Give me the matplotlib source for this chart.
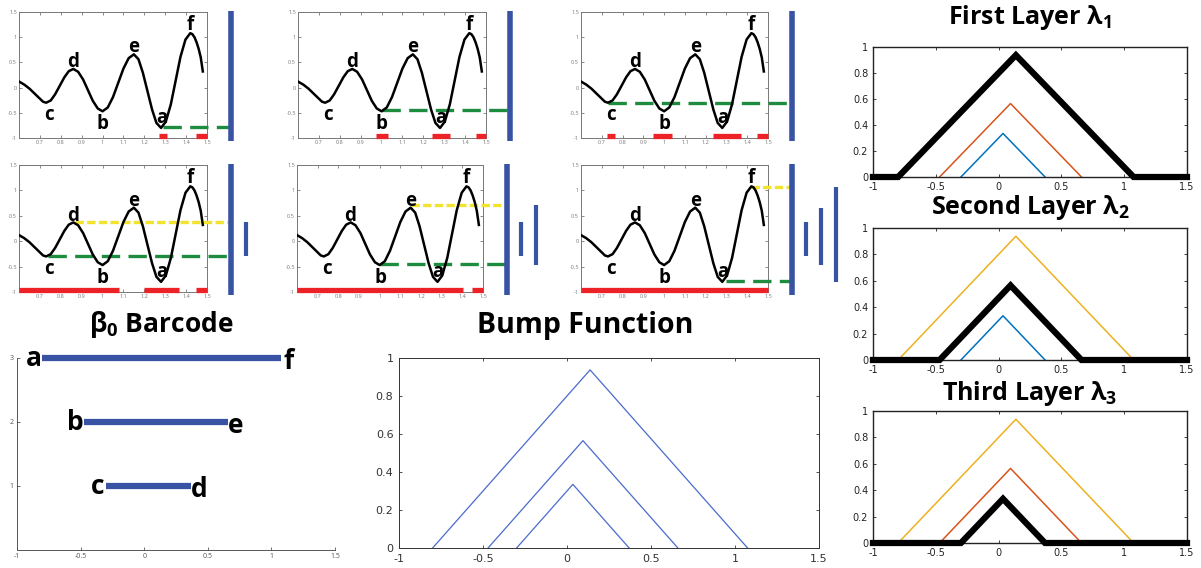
import numpy as np
import matplotlib.pyplot as plt

plt.rcParams['font.family'] = ['Open Sans', 'DejaVu Sans']
plt.rcParams['mathtext.fontset'] = 'custom'
plt.rcParams['mathtext.rm'] = 'Open Sans:bold'
plt.rcParams['mathtext.it'] = 'Open Sans:bold'
plt.rcParams['mathtext.bf'] = 'Open Sans:bold'

# the function f(x)
curve_x = [0.600, 0.625, 0.650, 0.675, 0.700, 0.715, 0.730,
           0.752, 0.773, 0.795, 0.817, 0.838, 0.860,
           0.883, 0.907, 0.930, 0.953, 0.977, 1.000,
           1.025, 1.050, 1.075, 1.100, 1.125, 1.150,
           1.172, 1.193, 1.215, 1.237, 1.258, 1.280,
           1.303, 1.327, 1.350, 1.373, 1.397, 1.420,
           1.430, 1.440, 1.450, 1.460, 1.470, 1.480]
curve_y = [0.12, 0.06, -0.02, -0.12, -0.22, -0.28, -0.30,
           -0.255, -0.132, 0.035, 0.203, 0.325, 0.37,
           0.314, 0.16, -0.05, -0.26, -0.414, -0.47,
           -0.394, -0.188, 0.095, 0.378, 0.584, 0.66,
           0.562, 0.295, -0.07, -0.435, -0.702, -0.80,
           -0.674, -0.33, 0.14, 0.61, 0.954, 1.08,
           1.06, 1.00, 0.90, 0.77, 0.60, 0.32]

# critical point labels (x, y of label)
crit_names = ['a', 'b', 'c', 'd', 'e', 'f']
crit_lab_x = [1.284, 1.002, 0.744, 0.858, 1.15, 1.42]
crit_lab_y = [-0.60, -0.72, -0.55, 0.50, 0.80, 1.24]

# thresholds in each of the six panels
green_x0 = [1.29, 1.0, 0.73, 0.74, 1.0, 1.30]
green_y = [-0.78, -0.45, -0.30, -0.30, -0.45, -0.78]
yellow_x0 = [None, None, None, 0.87, 1.15, 1.42]
yellow_y = [None, None, None, 0.38, 0.71, 1.07]

# sublevel set intervals (red)
red_sets = [
    [(1.27, 1.31), (1.445, 1.5)],
    [(0.975, 1.03), (1.24, 1.33), (1.45, 1.5)],
    [(0.725, 0.765), (0.945, 1.04), (1.235, 1.37), (1.445, 1.5)],
    [(0.6, 1.08), (1.2, 1.365), (1.447, 1.5)],
    [(0.6, 1.405), (1.447, 1.5)],
    [(0.6, 1.5)],
]
# how many finished bars appear next to each panel
n_done = [0, 0, 0, 1, 2, 3]

# barcode: birth, death (c-d, b-e, a-f)
births = [-0.30, -0.47, -0.80]
deaths = [0.37, 0.66, 1.075]
bar_names = [('c', 'd'), ('b', 'e'), ('a', 'f')]

small_xticks = [0.7, 0.8, 0.9, 1.0, 1.1, 1.2, 1.3, 1.4, 1.5]
small_xlabels = ['0.7', '0.8', '0.9', '1', '1.1', '1.2', '1.3', '1.4', '1.5']
small_yticks = [-1, -0.5, 0, 0.5, 1, 1.5]
small_ylabels = ['-1', '-0.5', '0', '0.5', '1', '1.5']
big_xticks = [-1, -0.5, 0, 0.5, 1, 1.5]
big_xlabels = ['-1', '-0.5', '0', '0.5', '1', '1.5']
unit_yticks = [0, 0.2, 0.4, 0.6, 0.8, 1]
unit_ylabels = ['0', '0.2', '0.4', '0.6', '0.8', '1']

blue = '#3953a4'
red = '#ec2226'
green = '#1e8c3e'
yellow = '#f1e32e'
mblue, morange, myellow = '#0072BD', '#D95319', '#EDB120'

W, H = 1201, 568
fig = plt.figure(figsize=(W / 100, H / 100), dpi=100)


def box(l, r, t, b):
    return fig.add_axes([l / W, 1 - b / H, (r - l) / W, (b - t) / H])


def matlab_ticks(ax, size, color='#333333', family=None, pad=1.5):
    ax.tick_params(direction='in', top=True, right=True, labelsize=size,
                   length=2.5, width=0.6, colors=color, pad=pad)
    for s in ax.spines.values():
        s.set_linewidth(0.7)
        s.set_color(color)
    if family:
        for lab in ax.get_xticklabels() + ax.get_yticklabels():
            lab.set_family(family)


panel_boxes = [(19, 207, 12, 138), (298, 486, 12, 138), (581, 768, 12, 138),
               (19, 207, 165, 292), (297, 483, 165, 292), (581, 768, 165, 292)]

bar_x = 1.615
for i, (l, r, t, b) in enumerate(panel_boxes):
    ax = box(l, r, t, b)
    ax.set_xlim(0.6, 1.5)
    ax.set_ylim(-1, 1.5)
    ax.set_xticks(small_xticks, small_xlabels)
    ax.set_yticks(small_yticks, small_ylabels)
    matlab_ticks(ax, 4, color='#777777')
    ax.plot(curve_x, curve_y, color='black', lw=1.8, zorder=4)
    for name, lx, ly in zip(crit_names, crit_lab_x, crit_lab_y):
        ax.text(lx, ly, name, fontsize=13.5, fontweight='bold', ha='center',
                va='center', zorder=6)
    for lo, hi in red_sets[i]:
        ax.plot([lo, hi], [-0.955, -0.955], color=red, lw=3.8,
                solid_capstyle='butt', clip_on=False, zorder=5)
    ax.plot([green_x0[i], bar_x], [green_y[i], green_y[i]], color=green,
            lw=2.4, dashes=(5.5, 2.5), clip_on=False, zorder=3)
    if yellow_x0[i] is not None:
        ax.plot([yellow_x0[i], bar_x], [yellow_y[i], yellow_y[i]],
                color=yellow, lw=2.4, dashes=(2.5, 1), clip_on=False,
                zorder=3)
    ax.plot([bar_x, bar_x], [-1.06, 1.52], color=blue, lw=4,
            solid_capstyle='butt', clip_on=False, zorder=5)
    for k in range(n_done[i]):
        bx = bar_x + 0.07 * (k + 1)
        top = deaths[k]
        if k == n_done[i] - 1:
            top = max(yellow_y[i], deaths[k])
        ax.plot([bx, bx], [births[k], top], color=blue, lw=3,
                solid_capstyle='butt', clip_on=False)

# barcode
ax = box(17, 335, 358, 550)
ax.set_xlim(-1, 1.5)
ax.set_ylim(0, 3)
ax.set_xticks(big_xticks, big_xlabels)
ax.set_yticks([1, 2, 3], ['1', '2', '3'])
ax.spines['top'].set_visible(False)
ax.spines['right'].set_visible(False)
ax.tick_params(direction='in', labelsize=5, length=2.5, width=0.6,
               colors='#555555', pad=2.5)
for s in ax.spines.values():
    s.set_linewidth(0.7)
    s.set_color('#555555')
for k, (b0, d0) in enumerate(zip(births, deaths)):
    yk = k + 1
    ax.plot([b0, d0], [yk, yk], color=blue, lw=4.5,
            solid_capstyle='butt', clip_on=False)
    ax.text(b0 - 0.07, yk, bar_names[k][0], fontsize=19, fontweight='bold',
            ha='center', va='center')
    ax.text(d0 + 0.06, yk - 0.05, bar_names[k][1], fontsize=19,
            fontweight='bold', ha='center', va='center')

fig.text(161 / W, 1 - 325 / H, r'β$_0$ Barcode', fontsize=19,
         fontweight='bold', ha='center', va='center')
fig.text(585 / W, 1 - 325 / H, 'Bump Function', fontsize=20.5,
         fontweight='bold', ha='center', va='center')

# bump functions
ax = box(399, 819, 358, 548)
ax.set_xlim(-1, 1.5)
ax.set_ylim(0, 1)
ax.set_xticks(big_xticks, big_xlabels)
ax.set_yticks(unit_yticks, unit_ylabels)
matlab_ticks(ax, 8, color='#333333', family='DejaVu Sans', pad=4)
for b0, d0 in zip(births, deaths):
    ax.plot([b0, (b0 + d0) / 2, d0], [0, (d0 - b0) / 2, 0],
            color='#4a6bcc', lw=0.9)

# landscape layers
layer_boxes = [(873, 1187, 47, 177), (873, 1187, 228, 360),
               (873, 1187, 411, 543)]
layer_titles = [r'First Layer λ$_1$', r'Second Layer λ$_2$',
                r'Third Layer λ$_3$']
title_y = [18, 207, 393]
thin_colors = [mblue, morange, myellow]
for j, (l, r, t, b) in enumerate(layer_boxes):
    ax = box(l, r, t, b)
    ax.set_xlim(-1, 1.5)
    ax.set_ylim(0, 1)
    ax.set_xticks(big_xticks, big_xlabels)
    ax.set_yticks(unit_yticks, unit_ylabels)
    matlab_ticks(ax, 7, color='#222222', family='Liberation Sans Narrow',
                 pad=3.5)
    for s in ax.spines.values():
        s.set_linewidth(1.0)
    layer = 2 - j  # index into births (largest bar first layer)
    for k, (b0, d0) in enumerate(zip(births, deaths)):
        if k == layer:
            continue
        ax.plot([b0, (b0 + d0) / 2, d0], [0, (d0 - b0) / 2, 0],
                color=thin_colors[k], lw=1.1)
    b0, d0 = births[layer], deaths[layer]
    ax.plot([-1, b0, (b0 + d0) / 2, d0, 1.5], [0, 0, (d0 - b0) / 2, 0, 0],
            color='black', lw=4.5, clip_on=False, zorder=5,
            solid_joinstyle='miter')
    fig.text((l + r) / 2 / W, 1 - title_y[j] / H, layer_titles[j],
             fontsize=18, fontweight='bold', ha='center', va='center')

fig.savefig('out.png', dpi=100)
